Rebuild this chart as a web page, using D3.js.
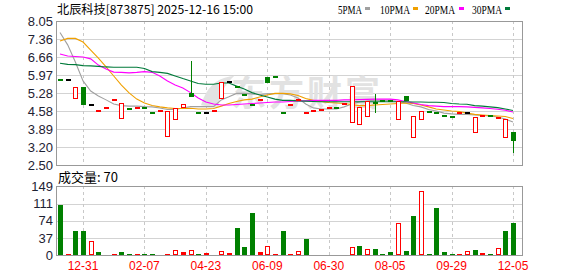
<!DOCTYPE html>
<html><head><meta charset="utf-8">
<script src="https://cdn.jsdelivr.net/npm/d3@7"></script>
<style>body{margin:0;background:#fff}svg{display:block}</style>
</head><body><svg id="c" width="578" height="276"></svg>
<script>
// ---- data ----
const title = "北辰科技[873875] 2025-12-16 15:00";
const open  = [5.76,5.76,5.03,5.49,4.82,4.57,4.69,4.99,4.26,4.65,4.69,4.69,4.49,4.57,3.57,4.22,4.71,5.29,4.49,4.49,4.57,5.03,5.69,5.52,5.20,4.81,5.01,5.88,5.88,4.49,4.80,4.99,4.49,4.58,4.62,4.69,4.70,4.85,4.12,4.04,4.36,4.88,4.95,4.95,4.22,5.16,3.53,4.22,4.56,4.49,4.38,4.34,4.49,4.49,3.72,4.38,4.38,4.31,3.53,3.76];
const high  = [5.76,5.76,5.49,5.49,4.82,4.57,4.69,4.99,4.88,4.65,4.69,4.69,4.49,4.57,4.57,4.68,4.85,6.51,4.49,4.49,4.57,5.69,5.69,5.52,5.20,4.81,5.01,5.88,5.88,4.49,4.80,4.99,4.49,4.58,4.62,4.69,4.70,4.85,5.54,4.75,4.97,5.24,4.95,4.95,4.97,5.16,4.39,4.58,4.56,4.49,4.38,4.34,4.49,4.49,4.34,4.38,4.38,4.31,4.27,3.76];
const low   = [5.76,5.76,5.03,4.82,4.82,4.57,4.69,4.99,4.26,4.65,4.69,4.69,4.49,4.57,3.57,4.22,4.71,5.13,4.49,4.49,4.57,5.03,5.69,5.52,5.20,4.81,5.01,5.67,5.88,4.49,4.80,4.99,4.49,4.58,4.62,4.69,4.70,4.85,4.12,4.04,4.36,4.52,4.95,4.95,4.22,4.97,3.53,4.22,4.56,4.49,4.38,4.34,4.49,4.49,3.72,4.38,4.38,4.31,3.53,2.97];
const close = [5.76,5.76,5.49,4.82,4.82,4.57,4.69,4.99,4.88,4.65,4.69,4.69,4.49,4.57,4.57,4.68,4.85,5.13,4.49,4.49,4.57,5.69,5.69,5.52,5.20,4.81,5.01,5.67,5.88,4.49,4.80,4.99,4.49,4.58,4.62,4.69,4.70,4.85,5.54,4.75,4.97,4.88,4.95,4.95,4.97,4.97,4.39,4.58,4.56,4.49,4.38,4.34,4.49,4.49,4.34,4.38,4.38,4.31,4.27,3.44];
// price direction of each bar (1 up, -1 down, 0 unchanged)
const trend = [-1,0,1,-1,0,1,1,1,1,-1,1,-1,-1,1,1,1,1,-1,-1,0,1,1,0,-1,-1,-1,1,-1,-1,-1,1,1,1,1,1,1,-1,1,1,1,1,-1,-1,-1,1,-1,1,1,-1,-1,-1,-1,1,0,1,1,-1,1,1,-1];
const volume = [108,2,52,52,30,6,0,2,6,2,2,2,2,0,2,11,6,10,2,4,0,8,5,58,17,91,6,19,2,52,1,9,35,0,0,0,0,0,17,20,14,14,2,6,69,9,84,138,2,101,6,2,1,9,11,4,2,15,52,70];
// volume bar kind: 1 up (hollow red), 0 up-flat (solid red), -1 down (green)
const volTrend = [-1,0,-1,-1,1,-1,0,0,-1,-1,0,-1,-1,0,0,1,0,1,-1,0,0,1,0,-1,-1,-1,1,1,0,-1,0,1,-1,0,0,0,0,0,1,-1,1,-1,-1,-1,1,-1,-1,1,-1,-1,-1,-1,0,1,-1,0,-1,1,-1,-1];
const ma5  = [7.61,7.13,6.47,5.74,5.35,5.16,5.01,4.85,4.79,4.77,4.77,4.75,4.74,4.70,4.64,4.64,4.70,4.75,4.75,4.75,4.75,5.01,5.13,5.26,5.26,5.24,5.22,5.24,5.25,5.25,5.20,5.08,4.85,4.70,4.66,4.66,4.66,4.74,4.85,4.93,4.97,4.99,4.99,4.99,4.95,4.89,4.79,4.74,4.64,4.58,4.50,4.47,4.45,4.45,4.43,4.41,4.39,4.35,4.27,4.16];
const ma10 = [7.28,7.38,7.38,7.24,6.93,6.62,6.28,5.93,5.58,5.28,5.04,4.89,4.79,4.74,4.70,4.68,4.68,4.69,4.66,4.66,4.68,4.77,4.87,4.95,5.01,5.04,5.12,5.20,5.26,5.26,5.24,5.18,5.06,4.99,4.95,4.91,4.89,4.87,4.83,4.79,4.79,4.81,4.83,4.85,4.87,4.89,4.87,4.81,4.74,4.66,4.62,4.58,4.56,4.50,4.45,4.43,4.41,4.39,4.37,4.29];
const ma20 = [6.78,6.70,6.68,6.66,6.59,6.35,6.20,6.08,6.07,6.05,6.07,6.10,6.07,5.93,5.74,5.58,5.47,5.29,5.08,4.93,4.85,4.81,4.81,4.83,4.85,4.87,4.89,4.91,4.93,4.93,4.95,4.97,4.97,4.99,4.99,4.99,4.99,5.01,5.01,5.02,5.03,5.04,5.04,5.04,5.01,4.95,4.89,4.83,4.79,4.77,4.75,4.75,4.75,4.74,4.72,4.70,4.68,4.65,4.61,4.54];
const ma30 = [6.42,6.38,6.37,6.33,6.32,6.30,6.28,6.27,6.27,6.27,6.27,6.22,6.10,6.07,6.03,5.93,5.83,5.74,5.64,5.61,5.61,5.66,5.66,5.54,5.43,5.29,5.20,5.12,5.04,4.99,4.99,4.97,4.96,4.95,4.94,4.94,4.94,4.94,4.94,4.94,4.94,4.94,4.94,4.94,4.94,4.94,4.93,4.93,4.92,4.92,4.91,4.87,4.85,4.84,4.79,4.77,4.74,4.71,4.66,4.60];
const maNames = ["5PMA","10PMA","20PMA","30PMA"];
const priceTicks = ["2.50","3.20","3.89","4.58","5.28","5.97","6.66","7.36","8.05"];
const volTicks = ["0","37","74","111","149"];
const xLabels = ["12-31","02-07","04-23","06-09","06-30","08-05","09-29","12-05"];
const xLabelIdx = [3,11,19,27,35,43,51,59];
const volLabel = "成交量";

// ---- layout ----
const L = 56, R = 522, PT = 21, PB = 165, VT = 186, VB = 255;
const RED = "#ff0000", GREEN = "#008000", GRID = "#d3d3d3", BORDER = "#999";
const maColors = ["#a0a0a0", "#f0a000", "#ff00ff", "#007a3a"];
const svg = d3.select("#c");
const n = close.length;
const x = d3.scalePoint().domain(d3.range(n)).range([60, 513]);
const y = d3.scaleLinear().domain([2.50, 8.05]).range([PB, PT]);
const vy = d3.scaleLinear().domain([0, 149]).range([VB, VT]);
const px = i => Math.round(x(i));

// grid
const g = svg.append("g").attr("shape-rendering", "crispEdges");
priceTicks.forEach(t => {
  const yy = Math.round(y(+t)) + 0.5;
  g.append("line").attr("x1", L).attr("x2", R).attr("y1", yy).attr("y2", yy).attr("stroke", GRID);
});
volTicks.forEach(t => {
  const yy = Math.round(vy(+t)) + 0.5;
  g.append("line").attr("x1", L).attr("x2", R).attr("y1", yy).attr("y2", yy).attr("stroke", GRID);
});
xLabelIdx.forEach(i => {
  const xx = px(i) + 0.5;
  g.append("line").attr("x1", xx).attr("x2", xx).attr("y1", PT).attr("y2", PB).attr("stroke", "#c8c8c8").attr("stroke-dasharray", "3,3");
  g.append("line").attr("x1", xx).attr("x2", xx).attr("y1", VT).attr("y2", VB).attr("stroke", "#c8c8c8").attr("stroke-dasharray", "3,3");
});

// watermark
svg.append("text").attr("x", 231).attr("y", 106).text("东方财富")
  .attr("font-family", "Noto Sans CJK SC").attr("font-size", 35).attr("font-weight", "bold")
  .attr("letter-spacing", 3).attr("fill", "#e2e2e2");
svg.append("path").attr("d", "M203,104 C208,88 218,80 230,78 C222,86 218,94 217,106 Z M212,96 C214,90 220,86 226,84")
  .attr("fill", "#e2e2e2").attr("stroke", "#e2e2e2").attr("stroke-width", 3);

// borders
const b = svg.append("g").attr("shape-rendering", "crispEdges").attr("stroke", BORDER).attr("fill", "none");
b.append("rect").attr("x", L + 0.5).attr("y", PT + 0.5).attr("width", R - L).attr("height", PB - PT);
b.append("rect").attr("x", L + 0.5).attr("y", VT + 0.5).attr("width", R - L).attr("height", VB - VT);

// MA lines
const mas = [ma5, ma10, ma20, ma30];
mas.forEach((arr, k) => {
  svg.append("path").datum(arr)
    .attr("d", d3.line().x((d, i) => x(i)).y(d => y(d)))
    .attr("fill", "none").attr("stroke", maColors[k]).attr("stroke-width", 1.1);
});

// candles
const cg = svg.append("g").attr("shape-rendering", "crispEdges");
for (let i = 0; i < n; i++) {
  const cx = px(i), o = open[i], c = close[i], h = high[i], l = low[i];
  const up = c > o, down = c < o;
  const col = up ? RED : down ? GREEN : (trend[i] > 0 ? RED : trend[i] < 0 ? GREEN : "#000");
  const yTop = Math.round(y(Math.max(o, c))), yBot = Math.round(y(Math.min(o, c)));
  if (h > Math.max(o, c)) cg.append("line").attr("x1", cx + 0.5).attr("x2", cx + 0.5).attr("y1", y(h)).attr("y2", yTop).attr("stroke", col);
  if (l < Math.min(o, c)) cg.append("line").attr("x1", cx + 0.5).attr("x2", cx + 0.5).attr("y1", yBot).attr("y2", y(l)).attr("stroke", col);
  if (up) {
    cg.append("rect").attr("x", cx - 1.5).attr("y", yTop + 0.5).attr("width", 4).attr("height", Math.max(1, yBot - yTop - 1))
      .attr("fill", "#fff").attr("stroke", col);
  } else if (down) {
    cg.append("rect").attr("x", cx - 2).attr("y", yTop).attr("width", 5).attr("height", Math.max(2, yBot - yTop)).attr("fill", col);
  } else {
    cg.append("rect").attr("x", cx - 2).attr("y", yTop - 1).attr("width", 5).attr("height", 2).attr("fill", col);
  }
}

// volume
const vg = svg.append("g").attr("shape-rendering", "crispEdges");
for (let i = 0; i < n; i++) {
  if (!volume[i]) continue;
  const cx = px(i), top = Math.round(vy(volume[i])), hgt = VB - top;
  const t = volTrend[i];
  if (t === 1 && hgt > 3) {
    vg.append("rect").attr("x", cx - 1.5).attr("y", top + 0.5).attr("width", 4).attr("height", hgt - 1)
      .attr("fill", "#fff").attr("stroke", RED);
  } else {
    vg.append("rect").attr("x", cx - 2).attr("y", Math.min(top, VB - 1)).attr("width", 5).attr("height", Math.max(1, hgt))
      .attr("fill", t === -1 ? GREEN : RED);
  }
}

// axis labels
const font = "Liberation Sans, Arial, sans-serif";
priceTicks.forEach(t => {
  svg.append("text").attr("x", 53).attr("y", y(+t)).attr("dy", "0.36em").attr("text-anchor", "end")
    .attr("font-family", font).attr("font-size", 13).attr("fill", "#1e2233").text(t);
});
volTicks.forEach(t => {
  svg.append("text").attr("x", 53).attr("y", vy(+t)).attr("dy", "0.36em").attr("text-anchor", "end")
    .attr("font-family", font).attr("font-size", 13).attr("fill", "#1e2233").text(t);
});
xLabels.forEach((t, k) => {
  svg.append("text").attr("x", x(xLabelIdx[k])).attr("y", 270).attr("text-anchor", "middle")
    .attr("font-family", font).attr("font-size", 12).attr("fill", RED).text(t);
});

// title & legend
svg.append("text").attr("x", 57).attr("y", 13.5).text(title)
  .attr("font-family", "Noto Sans CJK SC, sans-serif").attr("font-size", 12).attr("fill", "#000")
  .attr("textLength", 196).attr("lengthAdjust", "spacingAndGlyphs");
const legX = [338, 380, 425, 472], legW = [24, 30, 30, 30], sqX = [365, 413, 459, 505];
maNames.forEach((nm, k) => {
  svg.append("text").attr("x", legX[k]).attr("y", 13.5).text(nm)
    .attr("font-family", "Liberation Serif, serif").attr("font-size", 13).attr("fill", "#000")
    .attr("textLength", legW[k]).attr("lengthAdjust", "spacingAndGlyphs");
  svg.append("rect").attr("x", sqX[k]).attr("y", 7).attr("width", 5).attr("height", 3).attr("fill", maColors[k]);
});
svg.append("text").attr("x", 58).attr("y", 182).text(volLabel + ": " + volume[n - 1])
  .attr("font-family", "Noto Sans CJK SC, sans-serif").attr("font-size", 13).attr("fill", "#000");
</script></body></html>
